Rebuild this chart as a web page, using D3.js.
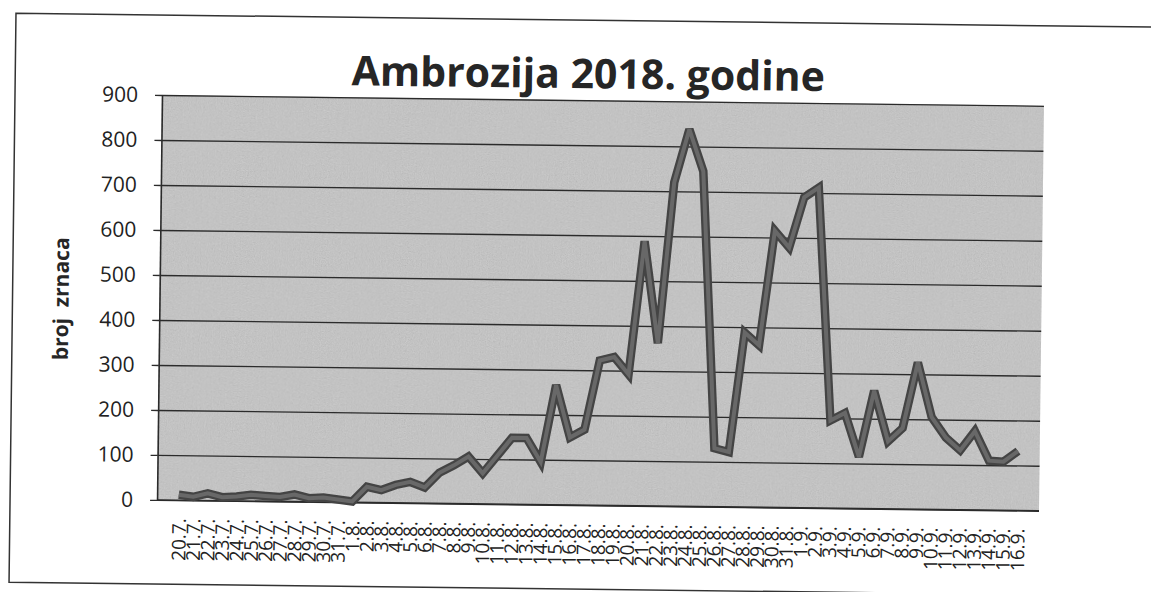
<!DOCTYPE html>
<html>
<head>
<meta charset="utf-8">
<script src="https://cdn.jsdelivr.net/npm/d3@7"></script>
<style>
  body { margin: 0; background: #fff; }
  svg { display: block; font-family: 'Open Sans', sans-serif; }
</style>
</head>
<body>
<div class="svg-container"></div>
<script>
(function () {
  /* DATA */
  var dates = [
    '20.7.', '21.7.', '22.7.', '23.7.', '24.7.', '25.7.', '26.7.', '27.7.', '28.7.', '29.7.', '30.7.', '31.7.',
    '1.8.', '2.8.', '3.8.', '4.8.', '5.8.', '6.8.', '7.8.', '8.8.', '9.8.', '10.8.', '11.8.', '12.8.',
    '13.8.', '14.8.', '15.8.', '16.8.', '17.8.', '18.8.', '19.8.', '20.8.', '21.8.', '22.8.', '23.8.',
    '24.8.', '25.8.', '26.8.', '27.8.', '28.8.', '29.8.', '30.8.', '31.8.',
    '1.9.', '2.9.', '3.9.', '4.9.', '5.9.', '6.9.', '7.9.', '8.9.', '9.9.', '10.9.', '11.9.', '12.9.',
    '13.9.', '14.9.', '15.9.', '16.9.'
  ]
  var counts = [
    12, 8, 16, 8, 10, 14, 12, 10, 16, 8, 10, 6,
    2, 35, 28, 40, 47, 35, 68, 85, 105, 68, 108, 148,
    148, 95, 266, 150, 168, 322, 330, 292, 588, 362, 720,
    838, 745, 130, 122, 388, 360, 615, 578,
    690, 712, 195, 212, 115, 262, 150, 180, 326, 205, 160, 132,
    175, 110, 108, 132
  ]
  var yTicks = [0, 100, 200, 300, 400, 500, 600, 700, 800, 900]
  var title = 'Ambrozija 2018. godine'
  var yTitle = 'broj  zrnaca'

  var width = 1151
  var height = 592
  var plot = { left: 162, top: 95, right: 1044, bottom: 500 }
  var ink = '#2b2b2b'

  var svg = d3.select('.svg-container').append('svg')
      .attr('width', width)
      .attr('height', height)

  var defs = svg.append('defs')
  var grain = defs.append('filter')
      .attr('id', 'grain')
      .attr('x', 0).attr('y', 0).attr('width', 1).attr('height', 1)
  grain.append('feTurbulence')
      .attr('type', 'fractalNoise')
      .attr('baseFrequency', 0.85)
      .attr('numOctaves', 2)
      .attr('seed', 3)
  grain.append('feColorMatrix')
      .attr('type', 'matrix')
      .attr('values', '0.33 0.33 0.33 0 0 0.33 0.33 0.33 0 0 0.33 0.33 0.33 0 0 0 0 0 0 1')

  // the scanned page sits slightly tilted
  var page = svg.append('g')
      .attr('transform', 'rotate(0.7,' + plot.left + ',' + plot.top + ')')

  // outer frame of the chart (right side runs off the page)
  page.append('path')
      .attr('d', 'M1250,15H15V584H1250')
      .attr('fill', 'none')
      .attr('stroke', '#333')
      .attr('stroke-width', 1.5)

  var x = d3.scalePoint()
      .domain(dates)
      .range([plot.left, plot.right])
      .padding(1.5)

  var y = d3.scaleLinear()
      .domain([0, 900])
      .range([plot.bottom, plot.top])

  // plot background
  page.append('rect')
      .attr('x', plot.left)
      .attr('y', plot.top)
      .attr('width', plot.right - plot.left)
      .attr('height', plot.bottom - plot.top)
      .attr('fill', '#c6c6c6')
  page.append('rect')
      .attr('x', plot.left)
      .attr('y', plot.top)
      .attr('width', plot.right - plot.left)
      .attr('height', plot.bottom - plot.top)
      .attr('filter', 'url(#grain)')
      .style('opacity', 0.25)

  // gridlines
  page.append('g')
      .attr('transform', 'translate(' + plot.left + ',0)')
      .call(d3.axisLeft(y).tickValues(yTicks).tickSize(-(plot.right - plot.left)).tickFormat(''))
      .call(function (g) {
        g.select('.domain').remove()
        g.selectAll('line').attr('stroke', ink).attr('stroke-width', 1.3)
      })

  // y axis
  page.append('g')
      .attr('transform', 'translate(' + plot.left + ',0)')
      .call(d3.axisLeft(y).tickValues(yTicks).tickSize(7).tickSizeOuter(0).tickPadding(17))
      .call(function (g) {
        g.select('.domain').attr('stroke', ink).attr('stroke-width', 1.6)
        g.selectAll('line').attr('stroke', ink).attr('stroke-width', 1.3)
        g.selectAll('text')
            .attr('font-size', 21)
            .attr('font-family', 'Open Sans')
            .attr('fill', '#222')
      })

  // x axis with upright date labels
  page.append('g')
      .attr('transform', 'translate(0,' + plot.bottom + ')')
      .call(d3.axisBottom(x).tickSize(0).tickSizeOuter(0))
      .call(function (g) {
        g.select('.domain').attr('stroke', ink).attr('stroke-width', 1.6)
          .attr('d', 'M' + plot.left + ',0H' + plot.right)
        g.selectAll('text')
            .attr('transform', 'rotate(-90)')
            .attr('x', -18)
            .attr('y', 0)
            .attr('dy', '0.36em')
            .style('text-anchor', 'end')
            .attr('font-size', 19)
            .attr('font-family', 'Open Sans')
            .attr('fill', '#222')
      })

  // pollen line
  var line = d3.line()
      .x(function (d, i) { return x(dates[i]) })
      .y(function (d) { return y(d) })

  page.append('path')
      .datum(counts)
      .attr('d', line)
      .attr('fill', 'none')
      .attr('stroke', '#444')
      .attr('stroke-width', 8.5)
      .attr('stroke-linejoin', 'miter')
      .attr('stroke-miterlimit', 3)
  page.append('path')
      .datum(counts)
      .attr('d', line)
      .attr('fill', 'none')
      .attr('stroke', '#686868')
      .attr('stroke-width', 4)
      .attr('stroke-linejoin', 'miter')
      .attr('stroke-miterlimit', 3)

  // titles
  page.append('text')
      .attr('x', 588)
      .attr('y', 83)
      .attr('text-anchor', 'middle')
      .attr('font-size', 41)
      .attr('font-weight', 'bold')
      .attr('fill', '#262626')
      .text(title)

  page.append('text')
      .attr('transform', 'translate(71,300) rotate(-90)')
      .attr('text-anchor', 'middle')
      .attr('font-size', 21)
      .attr('font-weight', 'bold')
      .attr('fill', '#262626')
      .style('white-space', 'pre')
      .text(yTitle)
})()
</script>
</body>
</html>
